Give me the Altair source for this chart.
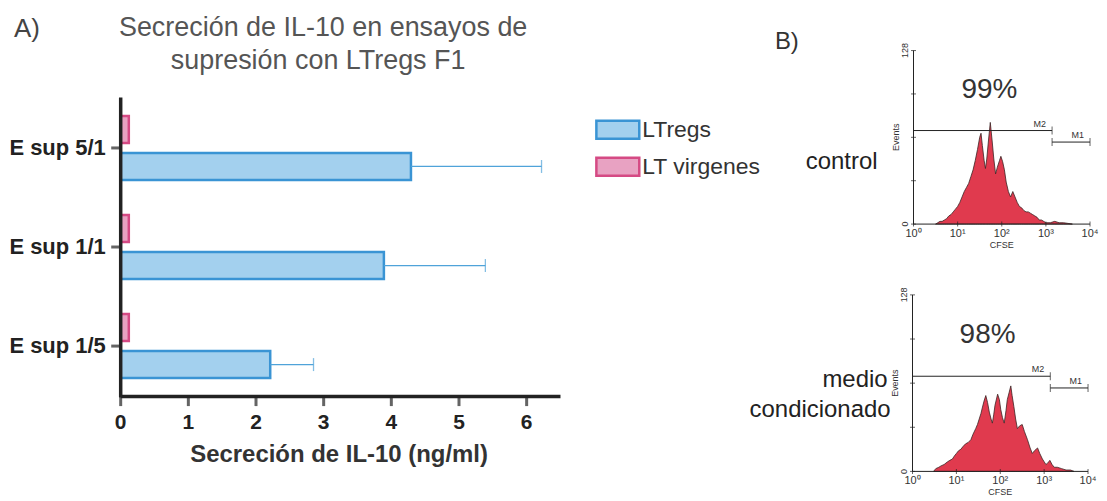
import altair as alt
import pandas as pd

FONT = "Liberation Sans"
W, H = 1085, 485

# ---------------- Panel A data ----------------
categorias = ["E sup 5/1", "E sup 1/1", "E sup 1/5"]
series = ["LTregs", "LT virgenes"]
ltregs_media = [4.29, 3.89, 2.21]
ltregs_superior = [6.22, 5.39, 2.85]
lt_virgenes_media = [0.12, 0.12, 0.12]
ticks_x = [0, 1, 2, 3, 4, 5, 6]
dominio_x = [0, 6.5]

# ---------------- Panel B data (log10 CFSE vs events) ----------------
control_log = [0.50, 0.55, 0.60, 0.65, 0.70, 0.75, 0.80, 0.85, 0.90, 0.95, 1.00, 1.05, 1.10, 1.15,
               1.20, 1.25, 1.30, 1.35, 1.40, 1.45, 1.50, 1.53, 1.56, 1.60, 1.63, 1.66, 1.70, 1.74,
               1.78, 1.82, 1.86, 1.90, 1.95, 1.98, 2.02, 2.06, 2.10, 2.15, 2.20, 2.25, 2.30, 2.35,
               2.40, 2.45, 2.50, 2.55, 2.60, 2.65, 2.70, 2.75, 2.80, 2.85, 2.90, 2.95, 3.00, 3.10,
               3.20, 3.30, 3.40, 3.50, 3.60]
control_eventos = [0, 1, 2, 2, 3, 4, 6, 7, 9, 11, 13, 16, 20, 24,
                   27, 30, 35, 40, 47, 55, 64, 67, 58, 47, 41, 48, 62, 75,
                   62, 48, 37, 42, 47, 50, 46, 40, 31, 24, 20, 24, 20, 16,
                   13, 12, 10, 9, 9, 8, 7, 6, 5, 3, 3, 2, 1, 1,
                   2, 1, 1, 0.5, 0]
medio_log = [0.48, 0.53, 0.60, 0.65, 0.72, 0.80, 0.85, 0.91, 0.95, 1.00, 1.05, 1.10, 1.15, 1.21,
             1.27, 1.33, 1.38, 1.44, 1.48, 1.52, 1.56, 1.59, 1.63, 1.67, 1.71, 1.75, 1.79, 1.82,
             1.85, 1.88, 1.94, 1.98, 2.01, 2.05, 2.09, 2.13, 2.16, 2.20, 2.24, 2.27, 2.31, 2.35,
             2.39, 2.44, 2.50, 2.55, 2.62, 2.68, 2.73, 2.78, 2.85, 2.90, 2.96, 3.00, 3.04, 3.08,
             3.13, 3.18, 3.23, 3.30, 3.40, 3.50, 3.60, 3.68]
medio_eventos = [0, 2, 3, 4, 5, 7, 8, 9, 11, 13, 15, 16, 18, 20,
                 21, 23, 27, 31, 34, 38, 42, 46, 51, 55, 50, 43, 38, 35,
                 41, 48, 56, 52, 45, 39, 35, 44, 52, 57, 62, 55, 47, 38,
                 31, 33, 34, 29, 23, 17, 13, 15, 17, 13, 9, 7, 5, 6,
                 8, 5, 3, 3, 2, 1, 1, 0]
marcadores = ["M2", "M1"]
marcador_inicio = [0.0, 3.14]
marcador_fin = [3.14, 4.0]
marcador_nivel = [69, 60.5]
porcentajes = ["99%", "98%"]
porcentaje_log = [1.72, 1.71]
porcentaje_eventos = [93, 93]
ticks_log = [0, 1, 2, 3, 4]
etiquetas_log = ["10⁰", "10¹", "10²", "10³", "10⁴"]
dominio_log = [0, 4]
ticks_eventos = [0, 32, 64, 96, 128]
etiquetas_eventos = ["0", "", "", "", "128"]
dominio_eventos = [0, 128]

# ---------------- Tables ----------------
barras = pd.DataFrame({
    "categoria": categorias * 2,
    "serie": ["LTregs"] * 3 + ["LT virgenes"] * 3,
    "valor": ltregs_media + lt_virgenes_media,
})
errores = pd.DataFrame({
    "categoria": categorias,
    "serie": ["LTregs"] * 3,
    "valor": ltregs_media,
    "superior": ltregs_superior,
})
ticks_x_df = pd.DataFrame({"t": ticks_x, "etiqueta": [str(t) for t in ticks_x]})
dom_x_df = pd.DataFrame({"a": [dominio_x[0]], "b": [dominio_x[1]]})
cat_df = pd.DataFrame({"categoria": categorias})


def single():
    return alt.Data(values=[{}])


def txt(s, x, y, size, color="#222", align="left", weight="normal"):
    return alt.Chart(single()).mark_text(
        text=s, font=FONT, fontSize=size, color=color, align=align,
        baseline="alphabetic", fontWeight=weight
    ).encode(x=alt.value(x), y=alt.value(y))


# ---------------- Panel A ----------------
xs_a = alt.Scale(domain=dominio_x, range=[113, 554], nice=False, zero=True)
ys_a = alt.Scale(domain=categorias, range=[90, 388], paddingInner=0, paddingOuter=0)
yoff_a = alt.Scale(domain=["LT virgenes", "LTregs"], paddingInner=0.27, paddingOuter=0.473)
AX = "#222"

leyenda = alt.Legend(
    orient="none", legendX=600, legendY=110, title=None, padding=0,
    symbolType="M-2.39,-1H2.39V1H-2.39Z", symbolSize=324, symbolStrokeWidth=2.5, symbolOpacity=1,
    labelFont=FONT, labelFontSize=23, labelColor="#333", labelOffset=13, rowPadding=8,
)

bar_layer = alt.Chart(barras).mark_bar(strokeWidth=2.5).encode(
    x=alt.X("valor:Q", scale=xs_a, axis=None),
    y=alt.Y("categoria:N", scale=ys_a, sort=categorias, axis=None),
    yOffset=alt.YOffset("serie:N", scale=yoff_a),
    fill=alt.Fill("serie:N", scale=alt.Scale(domain=series, range=["#a3d0ee", "#e8a2c2"]), legend=leyenda),
    stroke=alt.Stroke("serie:N", scale=alt.Scale(domain=series, range=["#3a94d4", "#d54a84"]), legend=leyenda),
)
err_line = alt.Chart(errores).mark_rule(color="#4fa3d9", strokeWidth=1.3).encode(
    x=alt.X("valor:Q", scale=xs_a, axis=None),
    x2="superior:Q",
    y=alt.Y("categoria:N", scale=ys_a, sort=categorias, axis=None),
    yOffset=alt.YOffset("serie:N", scale=yoff_a),
)
err_cap = alt.Chart(errores).mark_tick(color="#4fa3d9", thickness=1.3, size=13, orient="vertical").encode(
    x=alt.X("superior:Q", scale=xs_a, axis=None),
    y=alt.Y("categoria:N", scale=ys_a, sort=categorias, axis=None),
    yOffset=alt.YOffset("serie:N", scale=yoff_a),
)
# x axis of panel A
xa_line = alt.Chart(dom_x_df).mark_rule(color=AX, strokeWidth=3.5).encode(
    x=alt.X("a:Q", scale=xs_a, axis=None), x2="b:Q", y=alt.value(389))
xa_ticks = alt.Chart(ticks_x_df).mark_tick(color=AX, thickness=3, size=9, orient="vertical").encode(
    x=alt.X("t:Q", scale=xs_a, axis=None), y=alt.value(394))
xa_labels = alt.Chart(ticks_x_df).mark_text(font=FONT, fontSize=21, fontWeight="bold", color=AX,
                                            baseline="middle", align="center").encode(
    x=alt.X("t:Q", scale=xs_a, axis=None), y=alt.value(415), text="etiqueta:N")
# y axis of panel A
ya_line = alt.Chart(single()).mark_rule(color=AX, strokeWidth=3.5).encode(
    x=alt.value(113), y=alt.value(89), y2=alt.value(390))
ya_ticks = alt.Chart(cat_df).mark_tick(color=AX, thickness=3, size=9, orient="horizontal").encode(
    y=alt.Y("categoria:N", scale=ys_a, sort=categorias, axis=None), x=alt.value(108))
ya_labels = alt.Chart(cat_df).mark_text(font=FONT, fontSize=22, fontWeight="bold", color=AX,
                                        baseline="middle", align="right").encode(
    y=alt.Y("categoria:N", scale=ys_a, sort=categorias, axis=None), x=alt.value(98),
    text="categoria:N")

panel_a = alt.layer(
    bar_layer, err_line, err_cap, xa_line, xa_ticks, xa_labels, ya_line, ya_ticks, ya_labels,
    txt("Secreción de IL-10 (ng/ml)", 332, 455, 24, color="#333", align="center", weight="bold"),
    txt("A)", 6, 28, 26, color="#444"),
    txt("Secreción de IL-10 en ensayos de", 316, 27, 27, color="#555", align="center"),
    txt("supresión con LTregs F1", 311, 60, 27, color="#555", align="center"),
)


# ---------------- Panel B ----------------
def histograma(logs, eventos, idx, xr, yr):
    df = pd.DataFrame({"log": logs, "eventos": eventos})
    mk = pd.DataFrame({"marcador": marcadores, "inicio": marcador_inicio,
                       "fin": marcador_fin, "nivel": marcador_nivel})
    pc = pd.DataFrame({"texto": [porcentajes[idx]], "log": [porcentaje_log[idx]],
                       "eventos": [porcentaje_eventos[idx]]})
    xt = pd.DataFrame({"t": ticks_log, "etiqueta": etiquetas_log, "cero": [0] * len(ticks_log)})
    yt = pd.DataFrame({"t": ticks_eventos, "etiqueta": etiquetas_eventos, "cero": [0] * len(ticks_eventos)})
    xl = pd.DataFrame({"a": [dominio_log[0]], "b": [dominio_log[1]], "cero": [0]})
    yl = pd.DataFrame({"a": [dominio_eventos[0]], "b": [dominio_eventos[1]], "cero": [0]})
    tit = pd.DataFrame({"x": [sum(dominio_log) / 2], "y": [sum(dominio_eventos) / 2], "cero": [0]})

    xs = alt.Scale(domain=dominio_log, range=xr, nice=False, zero=False)
    ys = alt.Scale(domain=dominio_eventos, range=yr, nice=False, zero=True)

    def X(f):
        return alt.X(f, scale=xs, axis=None)

    def Y(f):
        return alt.Y(f, scale=ys, axis=None)

    area = alt.Chart(df).mark_area(color="#e03a4e", stroke="#3b2424", strokeWidth=0.8,
                                   fillOpacity=1, interpolate="linear").encode(
        x=X("log:Q"), y=Y("eventos:Q"))
    x_line = alt.Chart(xl).mark_rule(color=AX, strokeWidth=1).encode(
        x=X("a:Q"), x2="b:Q", y=Y("cero:Q"))
    y_line = alt.Chart(yl).mark_rule(color=AX, strokeWidth=1).encode(
        y=Y("a:Q"), y2="b:Q", x=X("cero:Q"))
    x_ticks = alt.Chart(xt).mark_tick(color=AX, orient="vertical", size=5, thickness=1).encode(
        x=X("t:Q"), y=Y("cero:Q"))
    y_ticks = alt.Chart(yt).mark_tick(color=AX, orient="horizontal", size=5, thickness=1).encode(
        x=X("cero:Q"), y=Y("t:Q"))
    x_labels = alt.Chart(xt).mark_text(font=FONT, fontSize=11, color="#333", baseline="middle",
                                       dy=10).encode(x=X("t:Q"), y=Y("cero:Q"), text="etiqueta:N")
    y_labels = alt.Chart(yt).mark_text(font=FONT, fontSize=9, color="#333", baseline="bottom",
                                       align="center", angle=270, dy=-4).encode(
        x=X("cero:Q"), y=Y("t:Q"), text="etiqueta:N")
    x_title = alt.Chart(tit).mark_text(font=FONT, fontSize=9, color="#333", baseline="middle",
                                       text="CFSE", dy=21).encode(x=X("x:Q"), y=Y("cero:Q"))
    y_title = alt.Chart(tit).mark_text(font=FONT, fontSize=9, color="#333", baseline="bottom",
                                       align="center", angle=270, text="Events", dy=-13).encode(
        x=X("cero:Q"), y=Y("y:Q"))
    reglas = alt.Chart(mk).mark_rule(color=AX, strokeWidth=1).encode(
        x=X("inicio:Q"), x2="fin:Q", y=Y("nivel:Q"))
    fin_ticks = alt.Chart(mk).mark_tick(color=AX, orient="vertical", size=8, thickness=1).encode(
        x=X("fin:Q"), y=Y("nivel:Q"))
    ini_ticks = alt.Chart(mk).mark_tick(color=AX, orient="vertical", size=8, thickness=1).encode(
        x=X("inicio:Q"), y=Y("nivel:Q"))
    etiquetas = alt.Chart(mk).mark_text(font=FONT, fontSize=9, color="#333", align="right",
                                        baseline="alphabetic", dx=-6, dy=-4).encode(
        x=X("fin:Q"), y=Y("nivel:Q"), text="marcador:N")
    pct = alt.Chart(pc).mark_text(font=FONT, fontSize=28, color="#333", align="center",
                                  baseline="alphabetic").encode(
        x=X("log:Q"), y=Y("eventos:Q"), text="texto:N")
    return alt.layer(area, x_line, y_line, x_ticks, y_ticks, x_labels, y_labels, x_title, y_title,
                     reglas, fin_ticks, ini_ticks, etiquetas, pct)


hist_control = histograma(control_log, control_eventos, 0, [908, 1085], [216, 42])
hist_medio = histograma(medio_log, medio_eventos, 1, [907, 1083], [464, 287])

chart = alt.layer(
    panel_a, hist_control, hist_medio,
    txt("B)", 769, 40, 24, color="#333"),
    txt("control", 872, 161, 24, color="#222", align="right"),
    txt("medio", 882, 379, 24, color="#222", align="right"),
    txt("condicionado", 885, 409, 24, color="#222", align="right"),
).resolve_scale(
    x="independent", y="independent"
).properties(
    width=W, height=H, padding=0, background="white"
).configure_view(stroke=None)

chart.save("out.html", embed_options={"renderer": "svg", "actions": False})
